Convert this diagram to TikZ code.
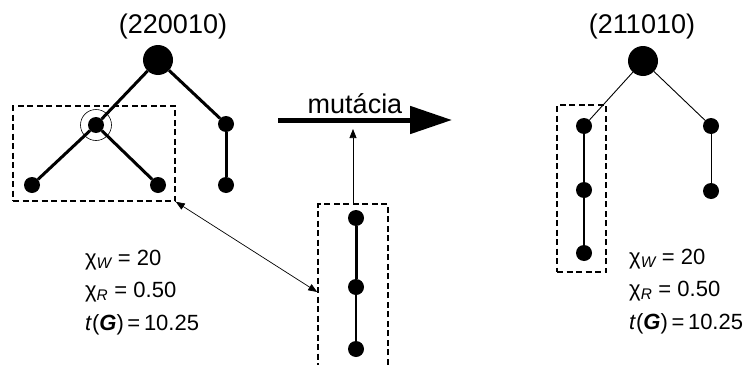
\documentclass[tikz,border=0pt]{standalone}
\usepackage{fontspec}
\setmainfont{Liberation Sans}
\usetikzlibrary{arrows.meta}
\begin{document}
\begin{tikzpicture}[x=1pt,y=-1pt,
  bignode/.style={circle,fill=black,inner sep=0pt,minimum size=30pt},
  smallnode/.style={circle,fill=black,inner sep=0pt,minimum size=16pt},
  thickedge/.style={line width=3pt},
  midedge/.style={line width=2pt},
  thinedge/.style={line width=0.9pt},
  dbox/.style={draw,rectangle,dash pattern=on 6pt off 3.5pt,line width=1.5pt,inner sep=0pt},
  thinarrow/.style={line width=0.7pt,-{Triangle[length=9pt,width=7pt]}},
  twoarrow/.style={line width=0.7pt,{Triangle[length=9pt,width=7pt]}-{Triangle[length=9pt,width=7pt]}},
  bigarrow/.style={line width=5pt,-{Triangle[length=42pt,width=27pt]}},
  lbl/.style={font=\fontsize{27}{32}\selectfont,inner sep=0pt,anchor=base},
  formula/.style={font=\fontsize{22}{26}\selectfont,inner sep=0pt,anchor=base west}
]
\useasboundingbox (0,0) rectangle (749,364);
\clip (0,0) rectangle (749,364);

% ---- left tree ----
\node[bignode] (L0) at (158,60) {};
\node[smallnode] (L1) at (96,125) {};
\node[smallnode] (L2) at (32,185) {};
\node[smallnode] (L3) at (158,185) {};
\node[smallnode] (L4) at (226,124) {};
\node[smallnode] (L5) at (226,185) {};
\draw[thickedge] (L0) -- (L1);
\draw[thickedge] (L0) -- (L4);
\draw[thickedge] (L1) -- (L2);
\draw[thickedge] (L1) -- (L3);
\draw[thickedge] (L4) -- (L5);
\node[circle,draw,line width=0.6pt,minimum size=31pt,inner sep=0pt] (ring) at (L1) {};
\node[dbox,minimum width=162pt,minimum height=95pt] (lbox) at (94,153.5) {};
\node[lbl] (ltitle) at (173,33) {(220010)};

% ---- left formulas ----
\node[formula] (lf1) at (85,265) {χ\textsubscript{\itshape W} = 20};
\node[formula] (lf2) at (85,297) {χ\textsubscript{\itshape R} = 0.50};
\node[formula] (lf3) at (85,330) {\textit{t}(\textbf{\textit{G}})\,=\,10.25};

% ---- middle fragment ----
\node[dbox,minimum width=70pt,minimum height=176pt] (mbox) at (353,292) {};
\node[smallnode] (M1) at (356,218) {};
\node[smallnode] (M2) at (356,287) {};
\node[smallnode] (M3) at (356,349) {};
\draw[thickedge] (M1) -- (M2);
\draw[midedge] (M2) -- (M3);
\coordinate (mtip) at (353,129);
\draw[thinarrow] (mbox.north) -- (mtip);
\draw[twoarrow] (lbox.south east) -- (mbox.west);

% ---- mutation arrow ----
\coordinate (a1) at (278,120);
\coordinate (a2) at (452,120);
\draw[bigarrow] (a1) -- (a2);
\node[lbl] (mut) at (355,113) {mutácia};

% ---- right tree ----
\node[bignode] (R0) at (643,61) {};
\node[smallnode] (R1) at (584,126) {};
\node[smallnode] (R2) at (584,190) {};
\node[smallnode] (R3) at (584,253) {};
\node[smallnode] (R4) at (711,126) {};
\node[smallnode] (R5) at (711,191) {};
\draw[thinedge] (R0) -- (R1);
\draw[thinedge] (R0) -- (R4);
\draw[midedge] (R1) -- (R2);
\draw[midedge] (R2) -- (R3);
\draw[thinedge] (R4) -- (R5);
\node[dbox,minimum width=49pt,minimum height=167pt] (rbox) at (581.5,188.5) {};
\node[lbl] (rtitle) at (642,33) {(211010)};

% ---- right formulas ----
\node[formula] (rf1) at (629,264) {χ\textsubscript{\itshape W} = 20};
\node[formula] (rf2) at (629,296) {χ\textsubscript{\itshape R} = 0.50};
\node[formula] (rf3) at (629,329) {\textit{t}(\textbf{\textit{G}})\,=\,10.25};
\end{tikzpicture}
\end{document}
